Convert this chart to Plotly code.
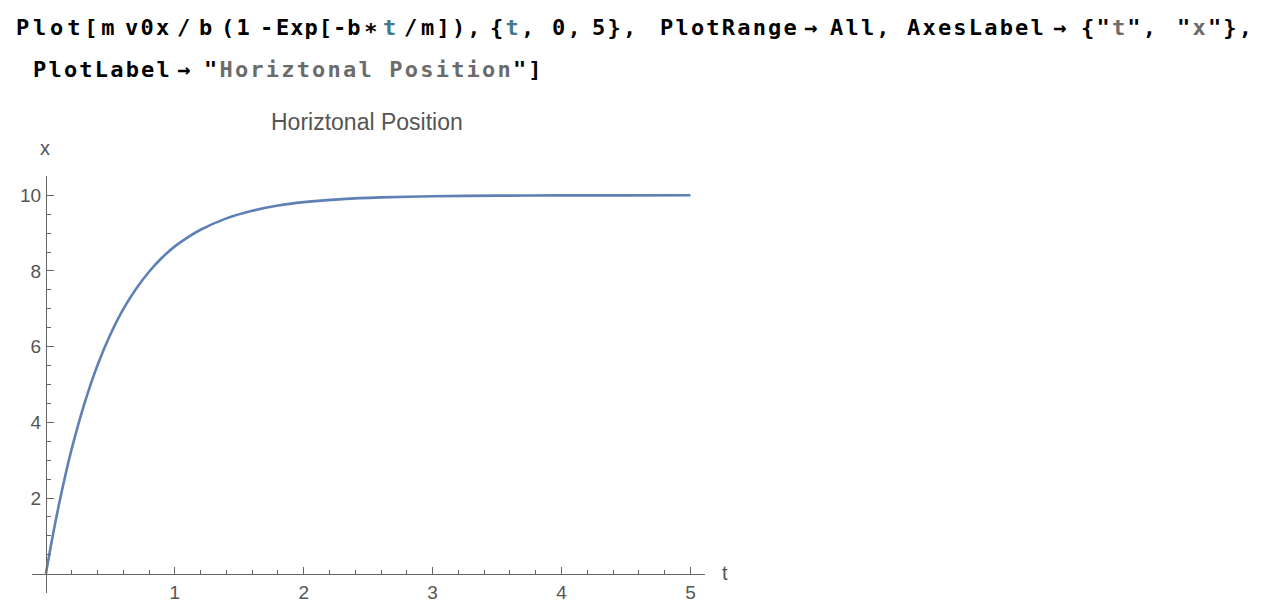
import plotly.graph_objects as go

# ---- data ----
t_vals = [0, 0.05, 0.1, 0.15, 0.2, 0.3, 0.4, 0.5, 0.6, 0.7, 0.8, 0.9, 1.0,
          1.1, 1.2, 1.4, 1.6, 1.8, 2.0, 2.3, 2.6, 3.0, 3.5, 4.0, 4.5, 5.0]
x_vals = [0, 0.95, 1.81, 2.59, 3.30, 4.51, 5.51, 6.32, 6.99, 7.53, 7.98, 8.35, 8.65,
          8.89, 9.09, 9.39, 9.59, 9.73, 9.82, 9.90, 9.945, 9.975, 9.991, 9.997, 9.999, 10.0]

x_tick_vals = [1, 2, 3, 4, 5]
x_tick_text = ["1", "2", "3", "4", "5"]
y_tick_vals = [2, 4, 6, 8, 10]
y_tick_text = ["2", "4", "6", "8", "10"]

plot_label = "Horiztonal Position"
x_axis_label = "t"
y_axis_label = "x"

# ---- layout geometry (page shows the figure offset by the body margin) ----
W, H = 1276, 612
OFF = 8


def cx(x):
    # small horizontal calibration of screen positions
    return x - 4 + 4 * x / 1260


PL = cx(25)
PW = cx(707) - PL
PT, PH = 176, 417
L, T = PL - OFF, PT - OFF
R = W - L - PW
B = H - T - PH
XR = [(25 - 39.1) / 130.63, (707 - 39.1) / 130.63]
YR = [-0.51, 10.51]


def px_x(px):
    return (cx(px) - PL) / PW


def px_y(py):
    return (PT + PH - py) / PH


AX = "#666666"
LBL = "#555555"
GRAY = "#6b6b6b"
TEAL = "#437a8d"

x_minor = [round(i * 0.2, 2) for i in range(1, 26) if i % 5 != 0]
y_minor = [v / 2 for v in range(-1, 22) if v % 4 != 0]

fig = go.Figure(go.Scatter(
    x=t_vals, y=x_vals, mode="lines",
    line=dict(color="#5E81B5", width=2.6, shape="spline", smoothing=0.8),
    hoverinfo="skip"))

tickfont = dict(family="Liberation Sans, Arial, sans-serif", size=19, color=LBL)

fig.update_layout(
    width=W, height=H,
    margin=dict(l=L, r=R, t=T, b=B),
    paper_bgcolor="white", plot_bgcolor="white",
    showlegend=False,
    xaxis=dict(range=XR, anchor="free", position=(0 - YR[0]) / (YR[1] - YR[0]),
               showline=True, linecolor=AX, linewidth=1,
               ticks="inside", ticklen=7, tickwidth=1, tickcolor=AX,
               tickmode="array", tickvals=x_tick_vals, ticktext=x_tick_text,
               tickfont=tickfont, ticklabelstandoff=1,
               showgrid=False, zeroline=False,
               minor=dict(ticks="inside", ticklen=4, tickwidth=1, tickcolor=AX,
                          tickmode="array", tickvals=x_minor, showgrid=False)),
    yaxis=dict(range=YR, anchor="free", position=(0 - XR[0]) / (XR[1] - XR[0]),
               showline=True, linecolor=AX, linewidth=1,
               ticks="inside", ticklen=7, tickwidth=1, tickcolor=AX,
               tickmode="array", tickvals=y_tick_vals, ticktext=y_tick_text,
               tickfont=tickfont, ticklabelstandoff=1,
               showgrid=False, zeroline=False,
               minor=dict(ticks="inside", ticklen=4, tickwidth=1, tickcolor=AX,
                          tickmode="array", tickvals=y_minor, showgrid=False)),
)

ann = []
ann.append(dict(text=plot_label, x=px_x(364), y=px_y(122), xref="paper", yref="paper",
                xanchor="center", yanchor="middle", showarrow=False,
                font=dict(family="Liberation Sans, Arial, sans-serif", size=23, color=LBL)))
ann.append(dict(text=y_axis_label, x=px_x(38), y=px_y(148), xref="paper", yref="paper",
                xanchor="center", yanchor="middle", showarrow=False,
                font=dict(family="Liberation Sans, Arial, sans-serif", size=20, color=LBL)))
ann.append(dict(text=x_axis_label, x=px_x(727), y=px_y(573), xref="paper", yref="paper",
                xanchor="center", yanchor="middle", showarrow=False,
                font=dict(family="Liberation Sans, Arial, sans-serif", size=20, color=LBL)))


def seg(txt, color=None, ls=2.2):
    style = "letter-spacing:%.1fpx" % ls + (";color:" + color if color else "")
    return '<span style="%s">%s</span>' % (style, txt)


code_line1 = [
    (seg("Plot[m", ls=3.8), 10), (seg("v0x"), 120), (seg("/"), 173), (seg("b"), 195),
    (seg("(1"), 218), (seg("-", ls=0), 257), (seg("Exp[-b", ls=1.0), 273),
    (seg("∗"), 362), (seg("t", TEAL), 382), (seg("/", ls=0), 403), (seg("m]),"), 420),
    (seg("{") + seg("t", TEAL) + seg(","), 490), (seg("0,"), 553), (seg("5},"), 593),
    (seg("PlotRange"), 662), (seg("→"), 808), (seg("All,"), 835),
    (seg("AxesLabel"), 913), (seg("→"), 1061),
    (seg('{"') + seg("t", GRAY) + seg('",'), 1089),
    (seg('"') + seg("x", GRAY) + seg('"},'), 1186),
]
code_line2 = [
    (seg("PlotLabel"), 27), (seg("→"), 173),
    (seg('"') + seg("Horiztonal Position", GRAY) + seg('"]'), 200),
]

codefont = dict(family="DejaVu Sans Mono, monospace", size=22, weight="bold", color="black")
for items, cy in ((code_line1, 27.5), (code_line2, 69)):
    for txt, lx in items:
        ann.append(dict(text=txt, x=px_x(lx - 3), y=px_y(cy), xref="paper", yref="paper",
                        xanchor="left", yanchor="middle", showarrow=False, font=codefont))

fig.update_layout(annotations=ann)
fig.write_html("out.html")
